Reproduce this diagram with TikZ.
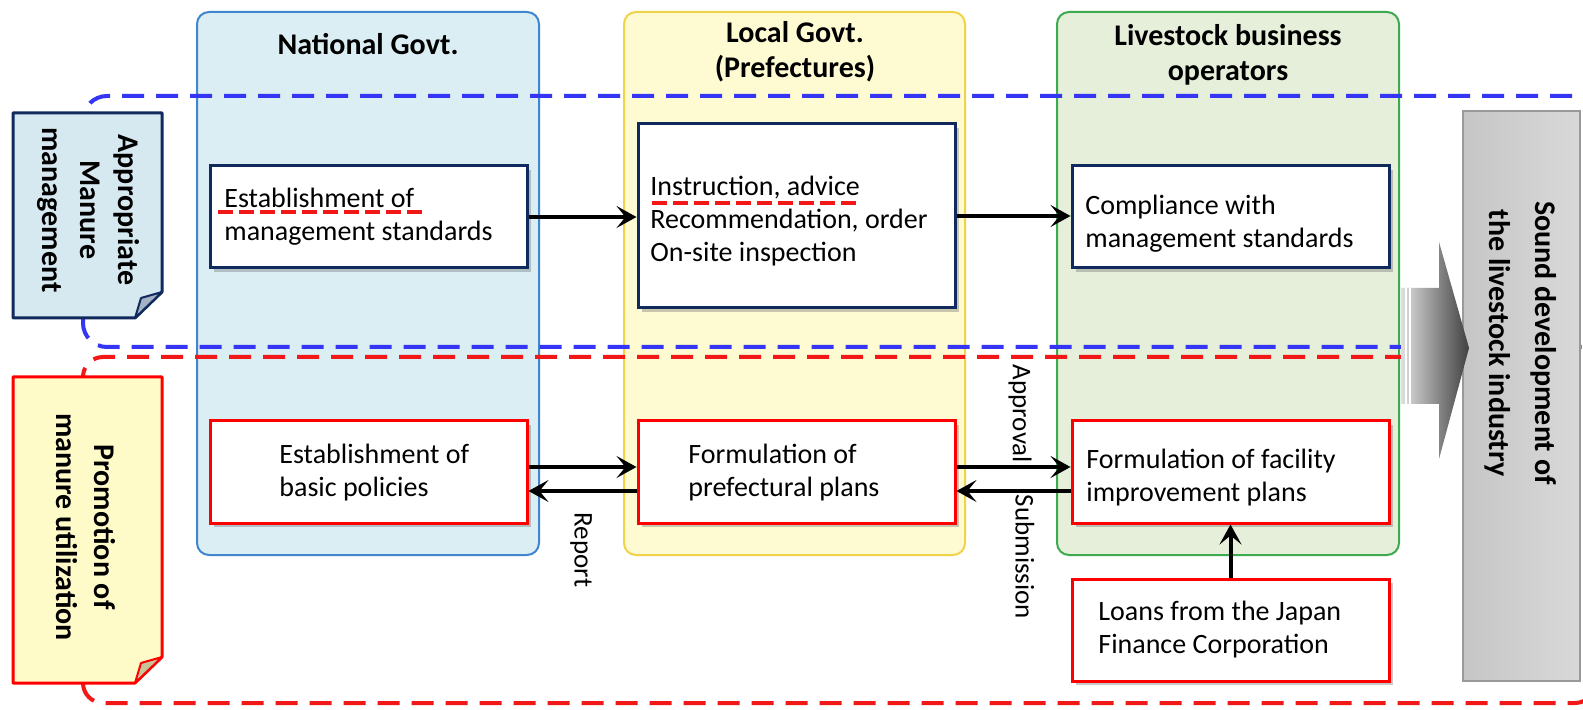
\documentclass[tikz,border=0pt]{standalone}
\usepackage{fontspec}
\setmainfont{Carlito}
\usetikzlibrary{arrows.meta,shadows,calc}
\definecolor{navy}{HTML}{102A5E}
\definecolor{colbluefill}{HTML}{DAEEF3}
\definecolor{colblue}{HTML}{3F86CF}
\definecolor{colyelfill}{HTML}{FEFBD3}
\definecolor{colyel}{HTML}{F0D348}
\definecolor{colgrnfill}{HTML}{E5EFDA}
\definecolor{colgrn}{HTML}{3DAA4F}
\definecolor{dashblue}{HTML}{3535F5}
\definecolor{dashred}{HTML}{F21818}
\definecolor{boxred}{HTML}{FF0000}
\definecolor{notebluefill}{HTML}{D6E9F1}
\definecolor{foldblue}{HTML}{A5B2C4}
\definecolor{noteyelfill}{HTML}{FFFBC8}
\definecolor{foldyel}{HTML}{C8C49A}
\tikzset{
  column/.style={line width=1pt, rounded corners=6pt},
  coltitle/.style={font=\fontsize{15}{17.5}\selectfont\bfseries, align=center, inner sep=0pt},
  box/.style={fill=white, line width=1.5pt, minimum width=158.5pt, inner sep=0pt,
    drop shadow={shadow xshift=2pt, shadow yshift=-2pt, opacity=0.35, fill=black!60}},
  navybox/.style={box, draw=navy},
  redbox/.style={box, draw=boxred},
  bodytext/.style={font=\fontsize{14}{16.5}\selectfont, align=left, anchor=west, inner sep=0pt},
  conn/.style={line width=2pt, -{Stealth[length=10pt, width=11pt, inset=4.5pt]}},
  sidelabel/.style={font=\fontsize{13.5}{16}\selectfont, rotate=-90, inner sep=0pt},
  notetext/.style={font=\fontsize{15}{19}\selectfont\bfseries, rotate=-90, align=center, inner sep=0pt},
  ulined/.style={dashred, line width=2pt, dash pattern=on 7.5pt off 3pt},
  regionline/.style={line width=2pt, dash pattern=on 11pt off 6pt}
}
\begin{document}
\begin{tikzpicture}[x=0.5pt, y=-0.5pt]
\useasboundingbox (0,0) rectangle (1583,710);
\clip (0,0) rectangle (1583,710);
\fill[white] (0,0) rectangle (1583,710);

% columns
\draw[column, draw=colblue, fill=colbluefill] (197,12) rectangle (539,555);
\draw[column, draw=colyel, fill=colyelfill] (624,12) rectangle (965,555);
\draw[column, draw=colgrn, fill=colgrnfill] (1057,12) rectangle (1399,555);

\node[coltitle] (tnat) at (368,44) {National Govt.};
\node[coltitle] (tloc) at (795,52) {Local Govt.\\(Prefectures)};
\node[coltitle] (tliv) at (1228,55) {Livestock business\\operators};

% dashed regions
\draw[regionline, dashblue, rounded corners=12pt] (1640,96) -- (83,96) -- (83,347) -- (1640,347);
\draw[regionline, dashred, rounded corners=10pt] (83,357) rectangle (1595,703);

% side notes
\draw[navy, fill=notebluefill, line width=1.5pt, line join=round]
  (13,113) -- (162,113) -- (162,292) -- (135,318) -- (13,318) -- cycle;
\draw[navy, fill=foldblue, line width=1pt, line join=round]
  (162,292) -- (135,318) -- (141,298) -- cycle;
\node[notetext] (note1) at (88,210) {Appropriate\\Manure\\management};

\draw[boxred, fill=noteyelfill, line width=1.5pt, line join=round]
  (13,377) -- (162,377) -- (162,657) -- (135,683) -- (13,683) -- cycle;
\draw[boxred, fill=foldyel, line width=1pt, line join=round]
  (162,657) -- (135,683) -- (141,663) -- cycle;
\node[notetext] (note2) at (86,527) {Promotion of\\manure utilization};

% boxes
\node[navybox, minimum height=51pt] (estab) at (368.5,217) {};
\node[navybox, minimum height=92pt] (instr) at (796.5,216) {};
\node[navybox, minimum height=51pt] (comply) at (1230.5,217) {};
\node[redbox, minimum height=51pt] (basic) at (368.5,472) {};
\node[redbox, minimum height=51pt] (pref) at (796.5,472) {};
\node[redbox, minimum height=51pt] (facil) at (1230.5,472) {};
\node[redbox, minimum height=51pt] (loans) at (1230.5,630) {};

\node[bodytext] (estabT) at (224,217) {Establishment of\\management standards};
\node[bodytext] (instrT) at (650,221) {Instruction, advice\\Recommendation, order\\On-site inspection};
\node[bodytext] (complyT) at (1085,224) {Compliance with\\management standards};
\node[bodytext] (basicT) at (279,473) {Establishment of\\basic policies};
\node[bodytext] (prefT) at (688,473) {Formulation of\\prefectural plans};
\node[bodytext] (facilT) at (1086,478) {Formulation of facility\\improvement plans};
\node[bodytext] (loansT) at (1098,630) {Loans from the Japan\\Finance Corporation};

% red dashed underlines
\draw[ulined] (218,212) -- (423,212);
\draw[ulined] (652,203) -- (857,203);

% connectors
\coordinate (yA) at (0,467);
\coordinate (yB) at (0,491);
\draw[conn] (estab.east) -- (estab.east -| instr.west);
\draw[conn] (instr.east) -- (instr.east -| comply.west);
\draw[conn] (basic.east |- yA) -- (pref.west |- yA);
\draw[conn] (pref.west |- yB) -- (basic.east |- yB);
\draw[conn] (pref.east |- yA) -- (facil.west |- yA);
\draw[conn] (facil.west |- yB) -- (pref.east |- yB);
\draw[conn] (loans.north) -- (facil.south);

\node[sidelabel] (report) at (581,550) {Report};
\node[sidelabel] (approval) at (1020,414) {Approval};
\node[sidelabel] (submission) at (1025,557) {Submission};

% result box
\node[draw=gray!80, line width=1pt, left color=gray!45, middle color=gray!8, right color=gray!30,
  minimum width=58.5pt, minimum height=285pt, inner sep=0pt] (sound) at (1521.5,396) {};
\node[notetext, font=\fontsize{15}{23}\selectfont\bfseries] (soundT) at (1521,343)
  {Sound development of\\the livestock industry};

% big arrow
\shade[left color=gray!25, right color=black!75]
  (1401,288) -- (1439,288) -- (1439,242) -- (1469,348) -- (1439,459) -- (1439,404) -- (1401,404) -- cycle;
\draw[white, line width=0.8pt] (1406,288) -- (1406,404);
\draw[white, line width=0.8pt] (1410,288) -- (1410,404);
\end{tikzpicture}
\end{document}
